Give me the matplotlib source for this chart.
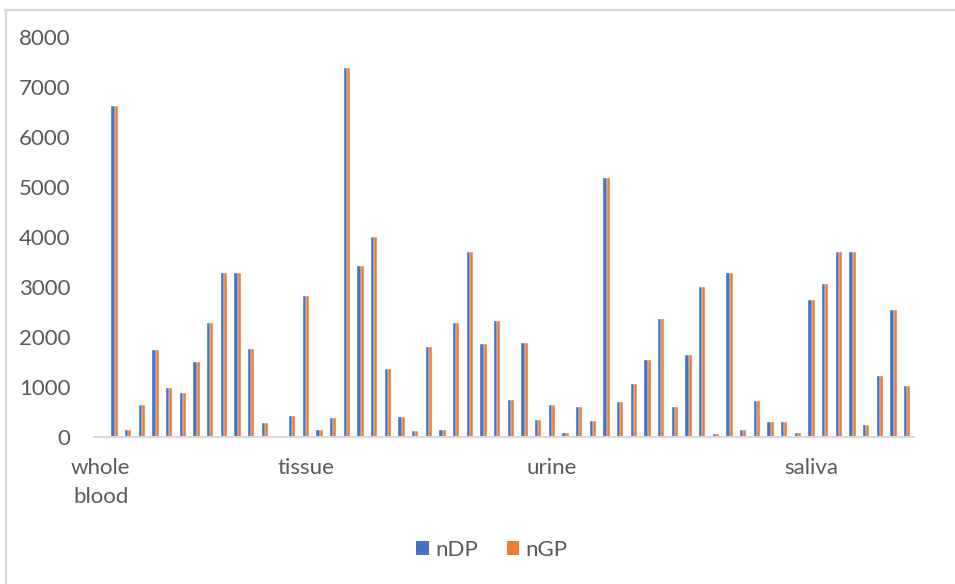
import matplotlib
matplotlib.use("Agg")
import matplotlib.pyplot as plt
from matplotlib.lines import Line2D
from matplotlib.patches import Patch
import numpy as np

plt.rcParams['font.family'] = ['Lato', 'DejaVu Sans']

series_names = ["nDP", "nGP"]

nDP = [0, 6620, 134, 632, 1734, 982, 878, 1503, 2284, 3289, 3289,
       1763, 283, 0, 417, 2820, 134, 387, 7381, 3415, 4003,
       1362, 409, 112, 1800, 149, 2284, 3698, 1853, 2329, 744,
       1882, 335, 632, 89, 610, 320, 5179, 692, 1064, 1540,
       2366, 595, 1637, 2991, 52, 3289, 149, 714, 298, 298,
       89, 2731, 3051, 3698, 3698, 231, 1220, 2537, 1012]
nGP = list(nDP)

category_labels = {0: "whole\nblood", 15: "tissue", 33: "urine", 52: "saliva"}
y_ticks = [0, 1000, 2000, 3000, 4000, 5000, 6000, 7000, 8000]

blue = "#4472C4"
orange = "#ED7D31"
text_color = "#595959"
line_color = "#D9D9D9"
fs = 16

W, H = 955, 584
fig = plt.figure(figsize=(W / 100, H / 100), dpi=100)
ax = fig.add_axes([94 / W, (H - 437) / H, (914 - 94) / W, (437 - 37) / H])

x = np.arange(len(nDP))
bw = 0.22
ax.bar(x - bw / 2, nDP, width=bw, color=blue, edgecolor="white", linewidth=0.3)
ax.bar(x + bw / 2, nGP, width=bw, color=orange, edgecolor="white", linewidth=0.3)

ax.set_xlim(-0.5, len(nDP) - 0.5)
ax.set_ylim(0, 8000)
ax.set_yticks(y_ticks)
ax.set_yticklabels([str(v) for v in y_ticks])

pos = sorted(category_labels)
ax.set_xticks(pos)
ax.set_xticklabels([category_labels[p] for p in pos], linespacing=1.6, va="top")

ax.tick_params(axis="both", length=0, labelsize=fs, labelcolor=text_color)
ax.tick_params(axis="y", pad=17)
ax.tick_params(axis="x", pad=15)

for side in ["top", "right", "left"]:
    ax.spines[side].set_visible(False)
ax.spines["bottom"].set_color(line_color)
ax.spines["bottom"].set_linewidth(1.5)

# chart frame along the top and left edges
fig.add_artist(Line2D([5 / W, 1], [1 - 9.5 / H, 1 - 9.5 / H], color=line_color, lw=1.6,
                      transform=fig.transFigure))
fig.add_artist(Line2D([5.5 / W, 5.5 / W], [0, 1 - 9.5 / H], color=line_color, lw=1.6,
                      transform=fig.transFigure))

handles = [Patch(facecolor=blue, edgecolor="none"), Patch(facecolor=orange, edgecolor="none")]
fig.legend(handles, series_names, loc="center", bbox_to_anchor=(492 / W, 1 - 550 / H),
           ncol=2, frameon=False, fontsize=fs, labelcolor=text_color,
           handlelength=0.55, handleheight=0.55, handletextpad=0.3, columnspacing=1.3)

fig.savefig("out.png", dpi=100, facecolor="white")
